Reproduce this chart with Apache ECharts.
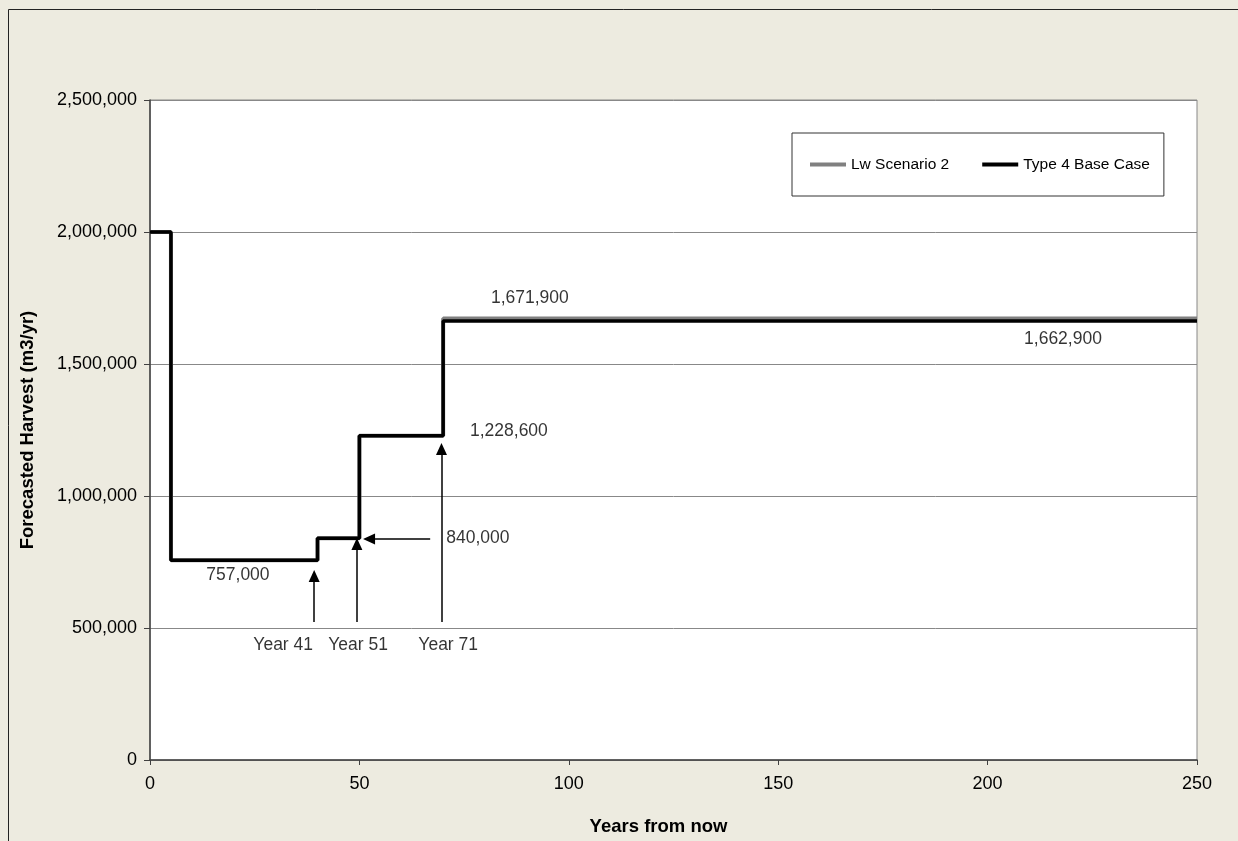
<!DOCTYPE html>
<html>
<head>
<meta charset="utf-8">
<script src="https://cdn.jsdelivr.net/npm/echarts@6/dist/echarts.min.js"></script>
<style>
html,body{margin:0;padding:0;background:#EDEBE0;}
#chart{width:1238px;height:841px;}
</style>
</head>
<body>
<div id="chart"></div>
<script>
// ---- data ----
var years = [0, 5, 40, 50, 70, 250];
var lwScenario2 = [2000000, 757000, 840000, 1228600, 1671900, 1671900];
var type4BaseCase = [2000000, 757000, 840000, 1228600, 1662900, 1662900];
var seriesNames = ['Lw Scenario 2', 'Type 4 Base Case'];
var yTicks = [0, 500000, 1000000, 1500000, 2000000, 2500000];
var xTicks = [0, 50, 100, 150, 200, 250];

// annotation texts and their anchor in data units (x = years, y = m3/yr)
var noteTexts = ['757,000', '840,000', '1,228,600', '1,671,900', '1,662,900', 'Year 41', 'Year 51', 'Year 71'];
var noteX = [21.0, 78.3, 85.7, 90.7, 218, 31.8, 49.7, 71.2];
var noteY = [700800, 840900, 1246200, 1748100, 1594700, 435600, 435600, 435600];

// arrows: [fromX, fromY, toX, toY] in data units
var arrows = [
  [39.2, 523000, 39.2, 697000],
  [49.4, 523000, 49.4, 818000],
  [69.6, 523000, 69.6, 1178000],
  [66.9, 837000, 52.3, 837000]
];

function zip(xs, ys) { return xs.map(function (x, i) { return [x, ys[i]]; }); }

var chart = echarts.init(document.getElementById('chart'));
var font = 'Liberation Sans, Arial, sans-serif';

var option = {
  animation: false,
  backgroundColor: '#EDEBE0',
  textStyle: { fontFamily: font, color: '#000' },
  graphic: [{
    type: 'rect',
    shape: { x: 8.5, y: 9.5, width: 1400, height: 1000 },
    style: { fill: 'none', stroke: '#222', lineWidth: 1 },
    silent: true, z: -10
  }],
  grid: {
    left: 150, right: 41, top: 100, bottom: 81,
    show: true, backgroundColor: '#fff', borderColor: '#888', borderWidth: 1
  },
  legend: {
    left: 792, top: 133,
    padding: [23, 14, 23, 18],
    itemGap: 33, itemWidth: 36, itemHeight: 4, icon: 'rect',
    backgroundColor: '#fff', borderColor: '#333', borderWidth: 1,
    textStyle: { fontFamily: font, fontSize: 15.5, color: '#000', lineHeight: 17 },
    data: seriesNames
  },
  xAxis: {
    type: 'value', min: 0, max: 250, interval: 50,
    name: 'Years from now', nameLocation: 'middle', nameGap: 57,
    nameTextStyle: { fontFamily: font, fontSize: 18.5, fontWeight: 'bold', color: '#000', padding: [0, 30, 0, 0] },
    axisLine: { show: true, lineStyle: { color: '#404040', width: 1.5 } },
    axisTick: { show: true, inside: false, length: 5, lineStyle: { color: '#404040' } },
    axisLabel: { fontFamily: font, fontSize: 18, color: '#000', margin: 15 },
    splitLine: { show: false }
  },
  yAxis: {
    type: 'value', min: 0, max: 2500000, interval: 500000,
    name: 'Forecasted Harvest (m3/yr)', nameLocation: 'middle', nameGap: 113,
    nameTextStyle: { fontFamily: font, fontSize: 18.5, fontWeight: 'bold', color: '#000' },
    axisLine: { show: true, lineStyle: { color: '#404040', width: 1.5 } },
    axisTick: { show: true, inside: false, length: 6, lineStyle: { color: '#404040' } },
    axisLabel: {
      fontFamily: font, fontSize: 18, color: '#000', margin: 13,
      formatter: function (v) { return v.toLocaleString('en-US'); }
    },
    splitLine: { show: true, lineStyle: { color: '#888', width: 1 } }
  },
  series: [
    {
      name: seriesNames[0], type: 'line', step: 'end', showSymbol: false,
      data: zip(years, lwScenario2),
      lineStyle: { color: '#808080', width: 4 }, itemStyle: { color: '#808080' }, z: 2
    },
    {
      name: seriesNames[1], type: 'line', step: 'end', showSymbol: false,
      data: zip(years, type4BaseCase),
      lineStyle: { color: '#000', width: 3.5 }, itemStyle: { color: '#000' }, z: 3,
      markLine: {
        silent: true, animation: false,
        symbol: ['none', 'triangle'], symbolSize: [11, 12],
        label: { show: false },
        lineStyle: { color: '#000', width: 1.5, type: 'solid' },
        data: arrows.map(function (a) { return [{ coord: [a[0], a[1]] }, { coord: [a[2], a[3]] }]; })
      }
    },
    {
      name: 'notes', type: 'scatter', symbolSize: 0, silent: true,
      data: noteTexts.map(function (t, i) { return { name: t, value: [noteX[i], noteY[i]] }; }),
      label: {
        show: true, position: 'inside', formatter: '{b}',
        fontFamily: font, fontSize: 17.5, color: '#000'
      },
      z: 5
    }
  ]
};
chart.setOption(option);
</script>
</body>
</html>
